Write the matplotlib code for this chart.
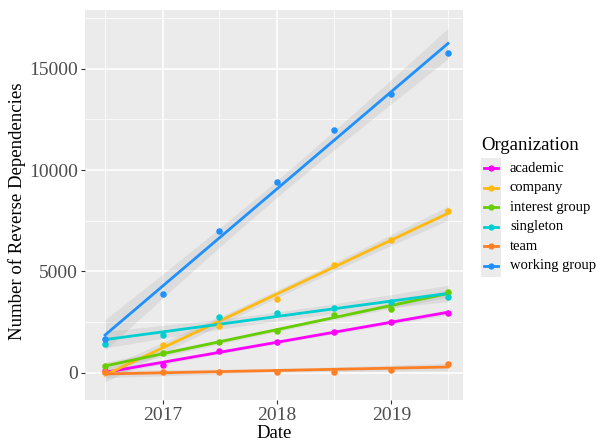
import numpy as np
import pandas as pd
import matplotlib
matplotlib.use("Agg")
import matplotlib.pyplot as plt
import matplotlib.dates as mdates
from matplotlib.lines import Line2D
from matplotlib.patches import Rectangle

plt.rcParams['font.family'] = ['Liberation Serif', 'DejaVu Serif']

# data
dates = pd.to_datetime(["2016-07-01", "2017-01-01", "2017-07-01", "2018-01-01",
                        "2018-07-01", "2019-01-01", "2019-07-01"])
organizations = ["academic", "company", "interest group", "singleton", "team", "working group"]
academic = [70, 380, 1080, 1490, 2000, 2510, 2960]
company = [30, 1360, 2290, 3640, 5300, 6530, 8000]
interest_group = [330, 960, 1520, 2050, 2850, 3160, 3980]
singleton = [1400, 1880, 2740, 2960, 3210, 3490, 3720]
team = [10, 20, 30, 40, 50, 150, 450]
working_group = [1650, 3870, 6970, 9410, 11980, 13770, 15770]
series = [academic, company, interest_group, singleton, team, working_group]
colors = ["#FF00FF", "#FFB90F", "#66CD00", "#00CED1", "#FF7F24", "#1E90FF"]

W, H = 597, 441
fig = plt.figure(figsize=(W / 100, H / 100), dpi=100)
ax = fig.add_axes([85 / W, 41 / H, 377.7 / W, 390 / H])
ax.set_facecolor("#EBEBEB")

x = mdates.date2num(dates)
xs = np.linspace(x.min(), x.max(), 80)
t_crit = 2.5706  # t quantile, df = 5

for vals, col in zip(series, colors):
    y = np.array(vals, dtype=float)
    b, a = np.polyfit(x, y, 1)
    fit = a + b * xs
    resid = y - (a + b * x)
    n = len(x)
    s = np.sqrt(np.sum(resid ** 2) / (n - 2))
    se = s * np.sqrt(1 / n + (xs - x.mean()) ** 2 / np.sum((x - x.mean()) ** 2))
    ax.fill_between(xs, fit - t_crit * se, fit + t_crit * se, color="#999999",
                    alpha=0.18, lw=0, zorder=2)
    ax.plot(xs, fit, color=col, lw=2, zorder=3)
    ax.scatter(x, y, s=22, color=col, zorder=4, lw=0)

ax.set_xlim(mdates.date2num(pd.Timestamp("2016-04-28")), mdates.date2num(pd.Timestamp("2019-08-17")))
ax.set_ylim(-1350, 17900)
ax.xaxis.set_major_locator(mdates.YearLocator())
ax.xaxis.set_major_formatter(mdates.DateFormatter("%Y"))
ax.xaxis.set_minor_locator(mdates.MonthLocator(bymonth=7))
ax.set_yticks([0, 5000, 10000, 15000])
ax.set_yticks([2500, 7500, 12500, 17500], minor=True)

ax.grid(True, which="major", color="white", lw=1.1)
ax.grid(True, which="minor", color="white", lw=0.55)
ax.set_axisbelow(True)
for sp in ax.spines.values():
    sp.set_visible(False)
ax.tick_params(which="major", length=3, width=0.8, color="#333333", labelcolor="#4D4D4D",
               labelsize=14, pad=2)
ax.tick_params(which="minor", length=0)

fig.text(274 / W, 1 - 434 / H, "Date", fontsize=13.5, ha="center", va="center")
fig.text(17 / W, 1 - 211 / H, "Number of Reverse Dependencies", fontsize=13.5,
         rotation=90, ha="center", va="center")

# legend, drawn by hand like ggplot's guide
fig.text(481 / W, 1 - 146 / H, "Organization", fontsize=13.5, ha="left", va="center")
fig.patches.append(Rectangle((481 / W, 1 - 277 / H), 20 / W, 119 / H,
                             transform=fig.transFigure, color="#EBEBEB", lw=0))
for i, (name, col) in enumerate(zip(organizations, colors)):
    yy = 1 - (168 + i * 19.6) / H
    fig.lines.append(Line2D([484 / W, 498 / W], [yy, yy], transform=fig.transFigure,
                            color=col, lw=2))
    fig.lines.append(Line2D([491 / W], [yy], transform=fig.transFigure, color=col,
                            marker="o", markersize=4.5, markeredgewidth=0))
    fig.text(510 / W, yy, name, fontsize=10.5, ha="left", va="center")

fig.savefig("out.png", dpi=100)
